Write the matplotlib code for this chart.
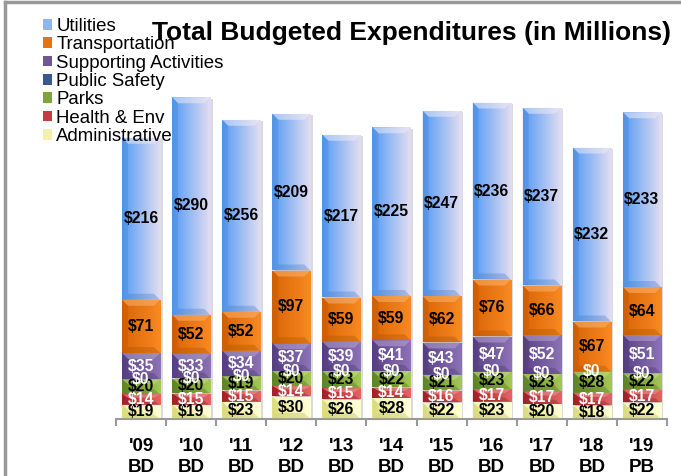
import numpy as np
import matplotlib
matplotlib.use("Agg")
import matplotlib.pyplot as plt
from matplotlib.patches import Polygon, Patch
from matplotlib.lines import Line2D

plt.rcParams['font.family'] = ['Liberation Sans', 'DejaVu Sans']

# budget by department, $ millions
years = ["'09\nBD", "'10\nBD", "'11\nBD", "'12\nBD", "'13\nBD", "'14\nBD",
         "'15\nBD", "'16\nBD", "'17\nBD", "'18\nBD", "'19\nPB"]
administrative = [19, 19, 23, 30, 26, 28, 22, 23, 20, 18, 22]
health_env = [14, 15, 15, 14, 15, 14, 16, 17, 17, 17, 17]
parks = [20, 20, 19, 20, 23, 22, 21, 23, 23, 28, 22]
public_safety = [0, 0, 0, 0, 0, 0, 0, 0, 0, 0, 0]
supporting = [35, 33, 34, 37, 39, 41, 43, 47, 52, None, 51]
transportation = [71, 52, 52, 97, 59, 59, 62, 76, 66, 67, 64]
utilities = [216, 290, 256, 209, 217, 225, 247, 236, 237, 232, 233]

# bottom -> top: name, values, gradient left, gradient right, label colour
series = [
    ("Administrative", administrative, (232, 232, 135), (255, 255, 215), "black"),
    ("Health & Env", health_env, (172, 35, 40), (228, 100, 100), "white"),
    ("Parks", parks, (100, 140, 40), (165, 200, 85), "black"),
    ("Public Safety", public_safety, (40, 70, 125), (85, 115, 165), "white"),
    ("Supporting Activities", supporting, (92, 66, 138), (140, 115, 180), "white"),
    ("Transportation", transportation, (218, 100, 5), (248, 138, 35), "black"),
    ("Utilities", utilities, (85, 155, 245), (228, 222, 240), "black"),
]

W, H = 681, 476
fig = plt.figure(figsize=(W / 100, H / 100), dpi=100)
ax = fig.add_axes([116 / W, 57 / H, 551 / W, 330 / H])

x = np.arange(len(years))
width = 0.76
bottom = np.zeros(len(years))


def shade(c, f):
    c = np.array(c) / 255.0
    return tuple(np.clip(c + (1 - c) * f, 0, 1)) if f > 0 else tuple(c * (1 + f))


# soft shadow behind each stack
totals = np.zeros(len(years))
for _, vals, _, _, _ in series:
    totals += np.array([v if v is not None else 0 for v in vals])
ax.bar(x + 0.05, totals, width, bottom=-2, color=(0.85, 0.85, 0.87), zorder=1)

for name, vals, c_left, c_right, lab_col in series:
    v = np.array([val if val is not None else 0 for val in vals], dtype=float)
    bars = ax.bar(x, v, width, bottom=bottom, color='none', edgecolor='none', zorder=2)
    t = np.linspace(0, 1, 64)[None, :, None]
    grad = (np.array(c_left)[None, None, :] * (1 - t) + np.array(c_right)[None, None, :] * t) / 255.0
    for i, p in enumerate(bars.patches):
        if v[i] <= 0:
            continue
        x0, y0 = p.get_x(), p.get_y()
        x1, y1 = x0 + p.get_width(), y0 + p.get_height()
        im = ax.imshow(grad, extent=[x0, x1, y0, y1], aspect='auto',
                       interpolation='bicubic', zorder=2)
        im.set_clip_path(p)
        # bevelled top and bottom edges
        h = min(8.0, v[i] / 3)
        d = 0.12
        ax.add_patch(Polygon([[x0, y1], [x1, y1], [x1 - d, y1 - h], [x0 + d, y1 - h]],
                             closed=True, facecolor=shade(c_right, 0.35), alpha=0.55,
                             edgecolor='none', zorder=3))
        ax.add_patch(Polygon([[x0, y1], [x0 + d, y1 - h], [x0 + d, y0 + h], [x0, y0]],
                             closed=True, facecolor=shade(c_left, -0.15), alpha=0.35,
                             edgecolor='none', zorder=3))
        ax.add_patch(Polygon([[x0, y0], [x1, y0], [x1 - d, y0 + h], [x0 + d, y0 + h]],
                             closed=True, facecolor=shade(c_left, -0.2), alpha=0.35,
                             edgecolor='none', zorder=3))
    for i in range(len(years)):
        if vals[i] is None:
            continue
        ax.text(x[i], bottom[i] + v[i] / 2, f"${vals[i]}", ha='center', va='center',
                fontsize=11.3, fontweight='bold', color=lab_col, zorder=5)
    bottom += v

ax.set_xlim(-0.5, len(years) - 0.5)
ax.set_ylim(0, 440)

for s in ['top', 'right', 'left']:
    ax.spines[s].set_visible(False)
ax.spines['bottom'].set_color('#999999')
ax.spines['bottom'].set_linewidth(1.5)
ax.set_yticks([])
ax.set_xticks(x)
ax.set_xticklabels(years, fontsize=13.5, fontweight='bold', linespacing=1.25)
ax.set_xticks(np.arange(len(years) + 1) - 0.5, minor=True)
ax.tick_params(axis='x', which='major', length=0, pad=14)
ax.tick_params(axis='x', which='minor', length=5, width=1.5, color='#999999', direction='out')

fig.text(412 / W, 1 - 33 / H, "Total Budgeted Expenditures (in Millions)",
         ha='center', va='center', fontsize=19, fontweight='bold')

handles = []
labels = []
for name, vals, c_left, c_right, lab_col in reversed(series):
    mid = tuple((np.array(c_left) * 0.6 + np.array(c_right) * 0.4) / 255.0)
    handles.append(Patch(facecolor=mid, edgecolor='none'))
    labels.append(name)
fig.legend(handles, labels, loc='upper left', bbox_to_anchor=(43 / W, 1 - 18 / H),
           frameon=False, fontsize=13.4, handlelength=0.5, handleheight=0.5,
           handletextpad=0.22, labelspacing=0.07, borderpad=0, borderaxespad=0)

# outer frame
fig.add_artist(Line2D([5 / W, 5 / W], [0, 1 - 2 / H], color='#999999', lw=2.5))
fig.add_artist(Line2D([5 / W, 1], [1 - 2 / H, 1 - 2 / H], color='#999999', lw=2.5))

fig.savefig("out.png", dpi=100)
